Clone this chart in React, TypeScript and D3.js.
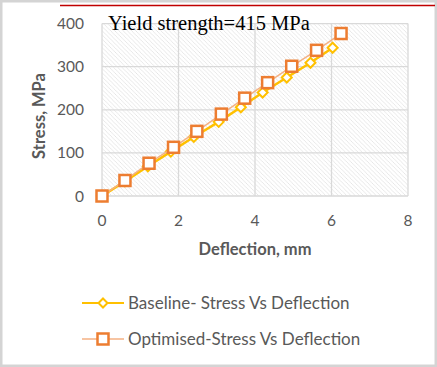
import { useEffect, useRef } from 'react';
import * as d3 from 'd3';

// deflection (mm) and stress (MPa)
const baseX = [0, 0.6, 1.2, 1.8, 2.4, 3.05, 3.63, 4.2, 4.83, 5.45, 6.03];
const baseY = [0, 34, 69, 103, 137, 172, 206, 240, 275, 309, 344];
const optX = [0, 0.6, 1.23, 1.87, 2.48, 3.12, 3.73, 4.33, 4.96, 5.61, 6.25];
const optY = [0, 36, 76, 113, 150, 190, 227, 263, 301, 338, 377];
const xTicks = [0, 2, 4, 6, 8];
const yTicks = [0, 100, 200, 300, 400];
const seriesNames = ['Baseline- Stress Vs Deflection', 'Optimised-Stress Vs Deflection'];
const titleText = 'Yield strength=415 MPa';

const W = 437;
const H = 367;

function App() {
	const ref = useRef<SVGSVGElement>(null);

	useEffect(() => {
		const svg = d3.select(ref.current);
		svg.selectAll('*').remove();

		const x = d3.scaleLinear().domain([0, 8]).range([102, 408]);
		const y = d3.scaleLinear().domain([0, 400]).range([196, 23.6]);
		const tickColor = '#595959';
		const font = 'Lato, "Open Sans", sans-serif';

		// frame
		svg.append('rect').attr('width', W).attr('height', H).attr('fill', '#fff');
		svg.append('rect')
			.attr('x', 1).attr('y', 1).attr('width', W - 2).attr('height', H - 2)
			.attr('fill', 'none').attr('stroke', '#d4d4d4').attr('stroke-width', 3);
		svg.append('line')
			.attr('x1', 60).attr('x2', 435).attr('y1', 5.5).attr('y2', 5.5)
			.attr('stroke', '#c00000').attr('stroke-width', 1.5);

		// hatched plot area
		const defs = svg.append('defs');
		const pat = defs.append('pattern')
			.attr('id', 'hatch').attr('patternUnits', 'userSpaceOnUse')
			.attr('width', 4.2).attr('height', 4.2);
		pat.append('rect').attr('width', 4.2).attr('height', 4.2).attr('fill', '#fff');
		pat.append('path')
			.attr('d', 'M-1,-1 L5.2,5.2 M-1,3.2 L1,5.2 M3.2,-1 L5.2,1')
			.attr('stroke', '#dcdcdc').attr('stroke-width', 0.65);
		svg.append('rect')
			.attr('x', x(0)).attr('y', y(400))
			.attr('width', x(8) - x(0)).attr('height', y(0) - y(400))
			.attr('fill', 'url(#hatch)');

		// grid
		const grid = svg.append('g').attr('stroke', '#d9d9d9').attr('stroke-width', 1.3);
		grid.selectAll('.h').data(yTicks).enter().append('line')
			.attr('x1', x(0)).attr('x2', x(8))
			.attr('y1', d => y(d)).attr('y2', d => y(d));
		grid.selectAll('.v').data(xTicks).enter().append('line')
			.attr('y1', y(0)).attr('y2', y(400))
			.attr('x1', d => x(d)).attr('x2', d => x(d));

		// tick labels
		svg.append('g').selectAll('text').data(yTicks).enter().append('text')
			.attr('x', 84).attr('y', d => y(d)).attr('dy', '0.36em')
			.attr('text-anchor', 'end').attr('font-family', font).attr('font-size', 15.5)
			.attr('fill', tickColor).text(d => d);
		svg.append('g').selectAll('text').data(xTicks).enter().append('text')
			.attr('x', d => x(d)).attr('y', 226)
			.attr('text-anchor', 'middle').attr('font-family', font).attr('font-size', 15.5)
			.attr('fill', tickColor).text(d => d);

		// axis titles
		svg.append('text')
			.attr('x', 255).attr('y', 255).attr('text-anchor', 'middle')
			.attr('font-family', font).attr('font-weight', 'bold').attr('font-size', 16.5)
			.attr('fill', tickColor).text('Deflection, mm');
		svg.append('text')
			.attr('transform', 'translate(45,116) rotate(-90)').attr('text-anchor', 'middle')
			.attr('font-family', font).attr('font-weight', 'bold').attr('font-size', 16.5)
			.attr('fill', tickColor).text('Stress, MPa');

		// chart text
		svg.append('text')
			.attr('x', 108).attr('y', 30)
			.attr('font-family', '"Liberation Serif", "Times New Roman", serif')
			.attr('font-size', 20.5).attr('fill', '#000').text(titleText);

		const diamond = (cx: number, cy: number, r: number) =>
			`M${cx},${cy - r}L${cx + r},${cy}L${cx},${cy + r}L${cx - r},${cy}Z`;

		// baseline series
		const base = baseX.map((d, i) => [x(d), y(baseY[i])] as [number, number]);
		svg.append('path')
			.attr('d', d3.line()(base)).attr('fill', 'none')
			.attr('stroke', '#ffc000').attr('stroke-width', 2.5);
		svg.append('g').selectAll('path').data(base).enter().append('path')
			.attr('d', d => diamond(d[0], d[1], 5))
			.attr('fill', '#fff').attr('stroke', '#ffc000').attr('stroke-width', 2);

		// optimised series
		const opt = optX.map((d, i) => [x(d), y(optY[i])] as [number, number]);
		svg.append('path')
			.attr('d', d3.line()(opt)).attr('fill', 'none')
			.attr('stroke', '#f4b183').attr('stroke-width', 1.5);
		svg.append('g').selectAll('rect').data(opt).enter().append('rect')
			.attr('x', d => d[0] - 5.5).attr('y', d => d[1] - 5.5)
			.attr('width', 11).attr('height', 11)
			.attr('fill', '#fff').attr('stroke', '#ed7d31').attr('stroke-width', 2.5);

		// legend
		const lg = svg.append('g');
		const ly = [303, 339];
		lg.append('line').attr('x1', 82).attr('x2', 124).attr('y1', ly[0]).attr('y2', ly[0])
			.attr('stroke', '#ffc000').attr('stroke-width', 2);
		lg.append('path').attr('d', diamond(103, ly[0], 4.5))
			.attr('fill', '#fff').attr('stroke', '#ffc000').attr('stroke-width', 2);
		lg.append('line').attr('x1', 82).attr('x2', 124).attr('y1', ly[1]).attr('y2', ly[1])
			.attr('stroke', '#f4b183').attr('stroke-width', 1.5);
		lg.append('rect').attr('x', 97.5).attr('y', ly[1] - 5.5).attr('width', 11).attr('height', 11)
			.attr('fill', '#fff').attr('stroke', '#ed7d31').attr('stroke-width', 2.5);
		lg.selectAll('text').data(seriesNames).enter().append('text')
			.attr('x', 128).attr('y', (d, i) => ly[i]).attr('dy', '0.35em')
			.attr('font-family', font).attr('font-size', 17)
			.attr('fill', tickColor).text(d => d);
	}, []);

	return (
		<svg ref={ref} width={W} height={H}
			style={{ position: 'absolute', left: 0, top: 0, display: 'block' }} />
	);
}

export default App;
